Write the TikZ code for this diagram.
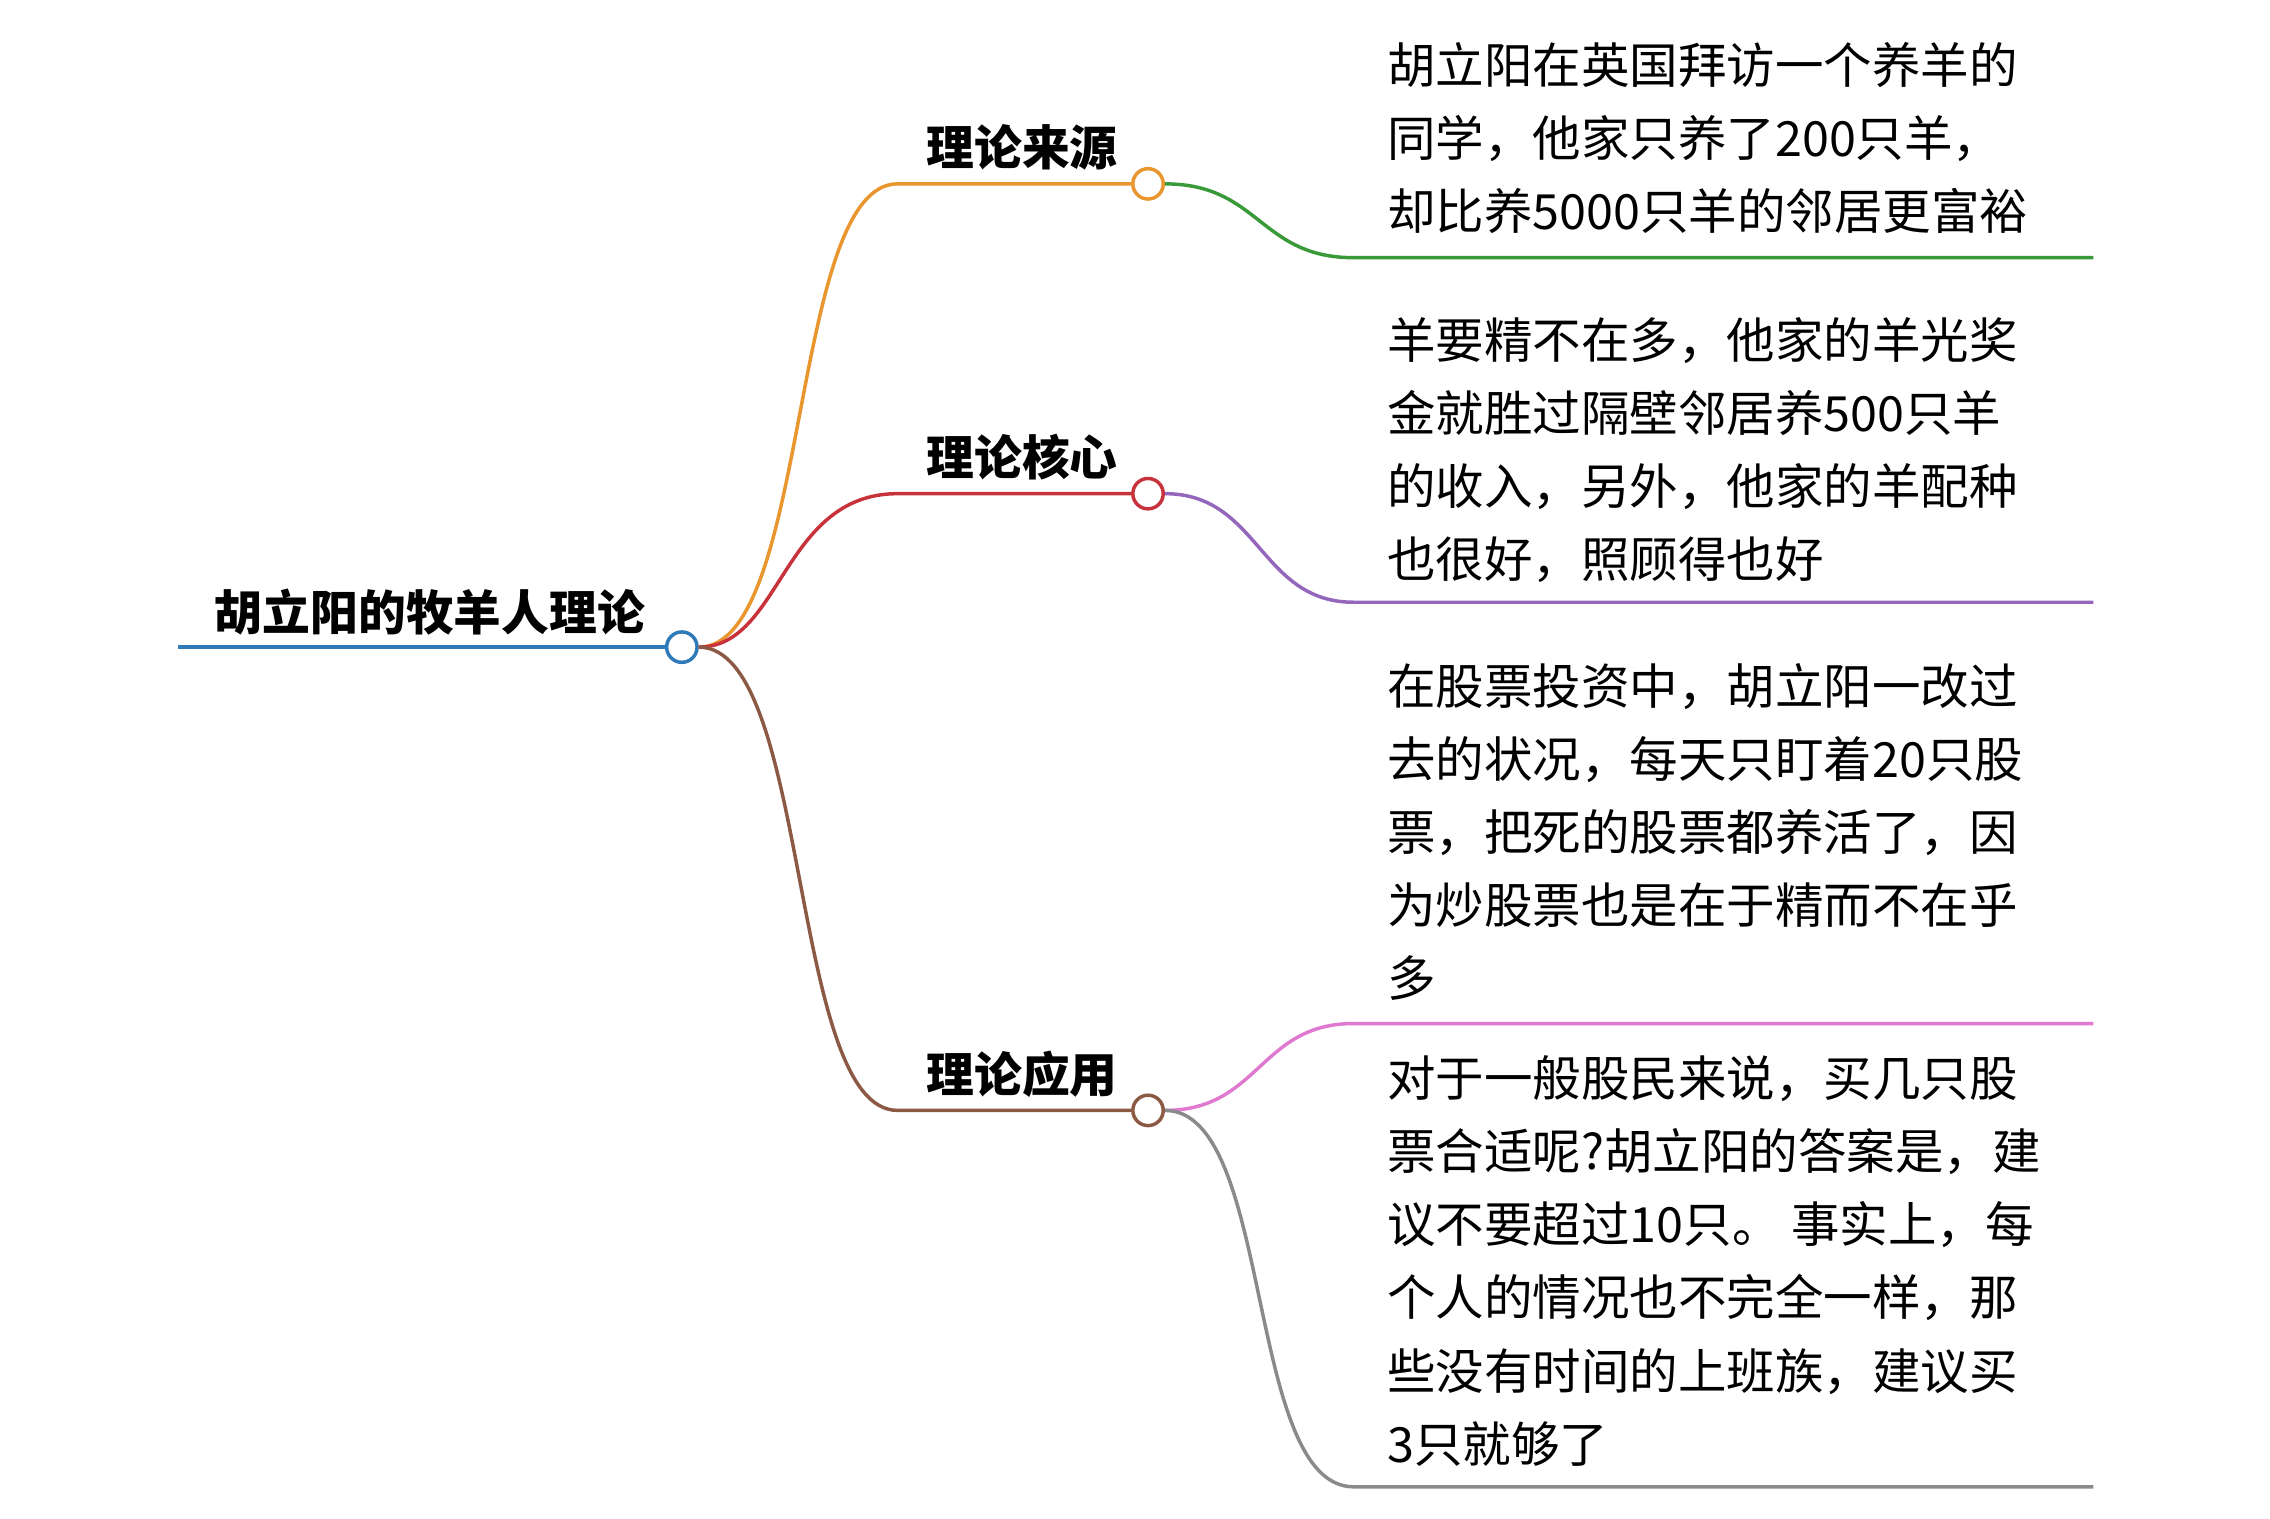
\documentclass[tikz,border=0pt]{standalone}
\usepackage{fontspec}
\setmainfont{Noto Sans CJK SC}
\begin{document}
\begin{tikzpicture}[x=1pt,y=-1pt,
  edge/.style={line width=2.4pt},
  dot/.style={circle,draw,fill=white,line width=2.4pt,minimum size=21pt,inner sep=0pt},
  lbl/.style={font=\fontsize{33}{40}\selectfont\bfseries,inner sep=0pt},
  leaf/.style={font=\fontsize{33.5}{50.5}\selectfont,align=left,anchor=north west,inner sep=0pt}]
\useasboundingbox (0,0) rectangle (1568,1049);
\definecolor{cblue}{HTML}{2F7AB8}\definecolor{corange}{HTML}{E8962D}
\definecolor{cgreen}{HTML}{3A9A3A}\definecolor{cred}{HTML}{C8323A}
\definecolor{cpurple}{HTML}{9467BD}\definecolor{cbrown}{HTML}{8C5A44}
\definecolor{cpink}{HTML}{E07AD0}\definecolor{cgray}{HTML}{8A8A8A}
% root
\coordinate (r0) at (123,447);
\node[dot,draw=cblue] (r) at (471,447) {};
\draw[edge,cblue] (r0) -- (r.west);
\node[lbl] (rt) at (297,423) {胡立阳的牧羊人理论};
% branch 1
\node[dot,draw=corange] (b1) at (793,127) {};
\coordinate (b1s) at (620,127);
\draw[edge,corange] (r.east) .. controls (560,447) and (545,127) .. (b1s) -- (b1.west);
\node[lbl] (b1t) at (706,102) {理论来源};
\coordinate (l1a) at (935,178); \coordinate (l1b) at (1446,178);
\draw[edge,cgreen] (b1.east) .. controls (870,127) and (870,178) .. (l1a) -- (l1b);
\node[leaf] (l1t) at (958,29) {胡立阳在英国拜访一个养羊的\\同学，他家只养了200只羊，\\却比养5000只羊的邻居更富裕};
% branch 2
\node[dot,draw=cred] (b2) at (793,341) {};
\coordinate (b2s) at (620,341);
\draw[edge,cred] (r.east) .. controls (540,447) and (540,341) .. (b2s) -- (b2.west);
\node[lbl] (b2t) at (706,316) {理论核心};
\coordinate (l2a) at (935,416); \coordinate (l2b) at (1446,416);
\draw[edge,cpurple] (b2.east) .. controls (870,341) and (870,416) .. (l2a) -- (l2b);
\node[leaf] (l2t) at (958,219) {羊要精不在多，他家的羊光奖\\金就胜过隔壁邻居养500只羊\\的收入，另外，他家的羊配种\\也很好，照顾得也好};
% branch 3
\node[dot,draw=cbrown] (b3) at (793,767) {};
\coordinate (b3s) at (620,767);
\draw[edge,cbrown] (r.east) .. controls (560,447) and (545,767) .. (b3s) -- (b3.west);
\node[lbl] (b3t) at (706,742) {理论应用};
\coordinate (l3a) at (935,707); \coordinate (l3b) at (1446,707);
\draw[edge,cpink] (b3.east) .. controls (870,767) and (870,707) .. (l3a) -- (l3b);
\node[leaf] (l3t) at (958,458) {在股票投资中，胡立阳一改过\\去的状况，每天只盯着20只股\\票，把死的股票都养活了，因\\为炒股票也是在于精而不在乎\\多};
\coordinate (l4a) at (935,1027); \coordinate (l4b) at (1446,1027);
\draw[edge,cgray] (b3.east) .. controls (880,767) and (860,1027) .. (l4a) -- (l4b);
\node[leaf] (l4t) at (958,729) {对于一般股民来说，买几只股\\票合适呢?胡立阳的答案是，建\\议不要超过10只。 事实上，每\\个人的情况也不完全一样，那\\些没有时间的上班族，建议买\\3只就够了};
\end{tikzpicture}
\end{document}
